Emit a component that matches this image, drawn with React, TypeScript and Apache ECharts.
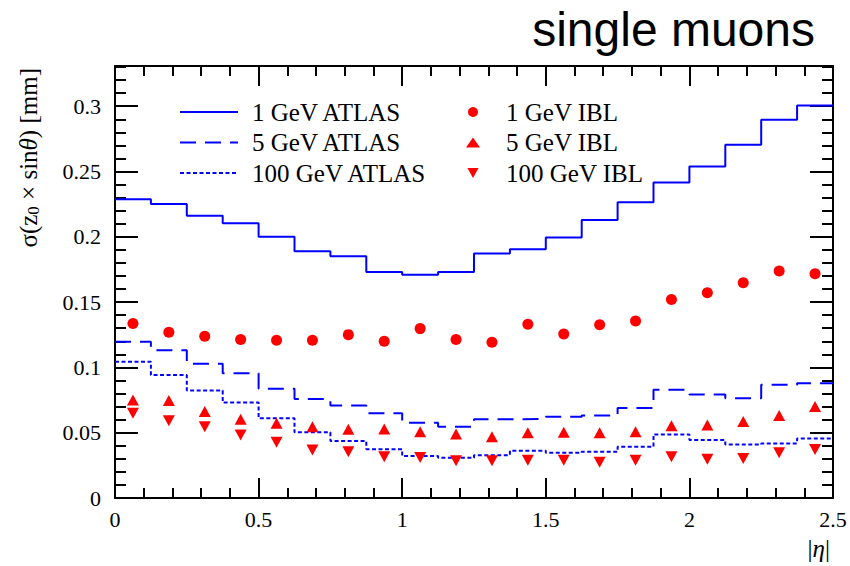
import React, { useEffect, useRef } from "react";
import * as echarts from "echarts";

// |eta| bin edges (20 bins of 0.125) and bin centres
const etaEdges = [0, 0.125, 0.25, 0.375, 0.5, 0.625, 0.75, 0.875, 1.0, 1.125, 1.25, 1.375, 1.5, 1.625, 1.75, 1.875, 2.0, 2.125, 2.25, 2.375, 2.5];
const etaCenters = [0.0625, 0.1875, 0.3125, 0.4375, 0.5625, 0.6875, 0.8125, 0.9375, 1.0625, 1.1875, 1.3125, 1.4375, 1.5625, 1.6875, 1.8125, 1.9375, 2.0625, 2.1875, 2.3125, 2.4375];

// ATLAS (histograms)
const atlas1GeV = [0.2287, 0.2251, 0.2162, 0.2103, 0.2000, 0.1890, 0.1851, 0.1731, 0.1710, 0.1731, 0.1873, 0.1905, 0.1995, 0.2128, 0.2264, 0.2415, 0.2538, 0.2705, 0.2897, 0.3005];
const atlas5GeV = [0.1197, 0.1131, 0.1028, 0.0956, 0.0836, 0.0759, 0.0708, 0.0649, 0.0577, 0.0546, 0.0603, 0.0605, 0.0623, 0.0631, 0.0690, 0.0828, 0.0792, 0.0764, 0.0867, 0.0879];
const atlas100GeV = [0.1044, 0.0941, 0.0823, 0.0731, 0.0610, 0.0503, 0.0436, 0.0374, 0.0321, 0.0308, 0.0328, 0.0362, 0.0346, 0.0354, 0.0392, 0.0487, 0.0444, 0.0410, 0.0418, 0.0456];

// IBL (markers)
const ibl1GeV = [0.1336, 0.1269, 0.1238, 0.1213, 0.1208, 0.1208, 0.1251, 0.1200, 0.1297, 0.1213, 0.1192, 0.1331, 0.1256, 0.1326, 0.1356, 0.1520, 0.1572, 0.1649, 0.1738, 0.1718];
const ibl5GeV = [0.0751, 0.0746, 0.0662, 0.0603, 0.0572, 0.0546, 0.0526, 0.0528, 0.0508, 0.0490, 0.0469, 0.0500, 0.0503, 0.0500, 0.0508, 0.0554, 0.0559, 0.0585, 0.0631, 0.0700];
const ibl100GeV = [0.0649, 0.0592, 0.0546, 0.0482, 0.0426, 0.0367, 0.0354, 0.0315, 0.0310, 0.0285, 0.0285, 0.0290, 0.0290, 0.0274, 0.0290, 0.0315, 0.0297, 0.0303, 0.0346, 0.0372];

const seriesNames = ["1 GeV ATLAS", "5 GeV ATLAS", "100 GeV ATLAS", "1 GeV IBL", "5 GeV IBL", "100 GeV IBL"];

const SERIF = "Liberation Serif";
const BLUE = "#0000ff";
const RED = "#ff0000";
const DOWN_TRI = "path://M0,0L10,0L5,9Z";

function histData(vals: number[]) {
  return etaEdges.map((x, i) => [x, vals[Math.min(i, vals.length - 1)]]);
}
function pointData(vals: number[]) {
  return etaCenters.map((x, i) => [x, vals[i]]);
}

export default function App() {
  const ref = useRef<HTMLDivElement>(null);
  useEffect(() => {
    document.body.style.margin = "0";
    const chart = echarts.init(ref.current!, undefined, { renderer: "svg" });
    const axisLineStyle = { show: true, onZero: false, lineStyle: { color: "#000", width: 2 } };
    const noLine = { show: false, onZero: false };
    const common = { min: 0, splitLine: { show: false } };
    const xCommon = { ...common, type: "value", max: 2.5 };
    const yCommon = { ...common, type: "value", max: 0.3308 };
    const tick = (len: number) => ({ show: true, inside: true, length: len, lineStyle: { color: "#000", width: 2 } });
    const lineSeries = (name: string, vals: number[], dash: any) => ({
      name,
      type: "line",
      step: "end",
      data: histData(vals),
      symbol: "none",
      showSymbol: false,
      lineStyle: { color: BLUE, width: 2, type: dash },
      itemStyle: { color: BLUE },
      z: 3,
    });
    const markerSeries = (name: string, vals: number[], symbol: string, size: any) => ({
      name,
      type: "scatter",
      data: pointData(vals),
      symbol,
      symbolSize: size,
      itemStyle: { color: RED, opacity: 1 },
      z: 4,
    });
    chart.setOption({
      animation: false,
      backgroundColor: "#fff",
      grid: { left: 115, right: 17, top: 66, bottom: 68 },
      xAxis: [
        {
          ...xCommon,
          position: "bottom",
          interval: 0.5,
          axisLine: axisLineStyle,
          axisTick: tick(20),
          axisLabel: { show: true, margin: 10, fontFamily: SERIF, fontSize: 22, color: "#000" },
          name: "|{i|η}|",
          nameLocation: "end",
          nameGap: -3,
          nameTextStyle: {
            fontFamily: SERIF, fontSize: 25, color: "#000", align: "right", verticalAlign: "top",
            padding: [38, 0, 0, 0],
            rich: { i: { fontFamily: SERIF, fontSize: 25, fontStyle: "italic", color: "#000" } },
          },
        },
        { ...xCommon, position: "bottom", interval: 0.1, axisLine: noLine, axisTick: tick(10), axisLabel: { show: false } },
        { ...xCommon, position: "top", interval: 0.5, axisLine: axisLineStyle, axisTick: tick(20), axisLabel: { show: false } },
        { ...xCommon, position: "top", interval: 0.1, axisLine: noLine, axisTick: tick(10), axisLabel: { show: false } },
      ],
      yAxis: [
        {
          ...yCommon,
          position: "left",
          interval: 0.05,
          axisLine: axisLineStyle,
          axisTick: tick(23),
          axisLabel: { show: true, margin: 14, fontFamily: SERIF, fontSize: 22, color: "#000", showMaxLabel: false },
        },
        { ...yCommon, position: "left", interval: 0.01, axisLine: noLine, axisTick: tick(11), axisLabel: { show: false } },
        { ...yCommon, position: "right", interval: 0.05, axisLine: axisLineStyle, axisTick: tick(23), axisLabel: { show: false } },
        { ...yCommon, position: "right", interval: 0.01, axisLine: noLine, axisTick: tick(11), axisLabel: { show: false } },
      ],
      legend: [
        {
          data: seriesNames.slice(0, 3),
          orient: "vertical",
          left: 174,
          top: 94,
          itemWidth: 58,
          itemHeight: 14,
          itemGap: 4.5,
          itemStyle: { opacity: 0 },
          textStyle: { fontFamily: SERIF, fontSize: 25, color: "#000", lineHeight: 26, padding: [0, 0, 0, 9] },
        },
        {
          data: seriesNames.slice(3),
          orient: "vertical",
          left: 461,
          top: 94,
          itemWidth: 14,
          itemHeight: 10,
          itemGap: 4.5,
          textStyle: { fontFamily: SERIF, fontSize: 25, color: "#000", lineHeight: 26, padding: [0, 0, 0, 21] },
        },
      ],
      graphic: [
        {
          type: "text",
          right: 35,
          top: 5,
          style: { text: "single muons", fontFamily: "Liberation Sans", fontSize: 48, fill: "#000" },
        },
        {
          type: "text",
          x: 28,
          y: 68,
          rotation: Math.PI / 2,
          style: {
            text: "{n|σ(z}{s|0}{n| × sin}{i|θ}{n|) [mm]}",
            align: "right",
            verticalAlign: "middle",
            rich: {
              n: { fontFamily: SERIF, fontSize: 25, fill: "#000", lineHeight: 28 },
              i: { fontFamily: SERIF, fontSize: 25, fontStyle: "italic", fill: "#000", lineHeight: 28 },
              s: { fontFamily: SERIF, fontSize: 17, fill: "#000", padding: [11, 0, 0, 0], lineHeight: 28 },
            },
          },
        },
      ],
      series: [
        lineSeries(seriesNames[0], atlas1GeV, "solid"),
        lineSeries(seriesNames[1], atlas5GeV, [16, 9]),
        lineSeries(seriesNames[2], atlas100GeV, [4, 2.5]),
        markerSeries(seriesNames[3], ibl1GeV, "circle", 11),
        markerSeries(seriesNames[4], ibl5GeV, "triangle", [12, 11]),
        markerSeries(seriesNames[5], ibl100GeV, DOWN_TRI, [12, 11]),
      ],
    });
    return () => chart.dispose();
  }, []);
  return <div ref={ref} style={{ width: 850, height: 566 }} />;
}
